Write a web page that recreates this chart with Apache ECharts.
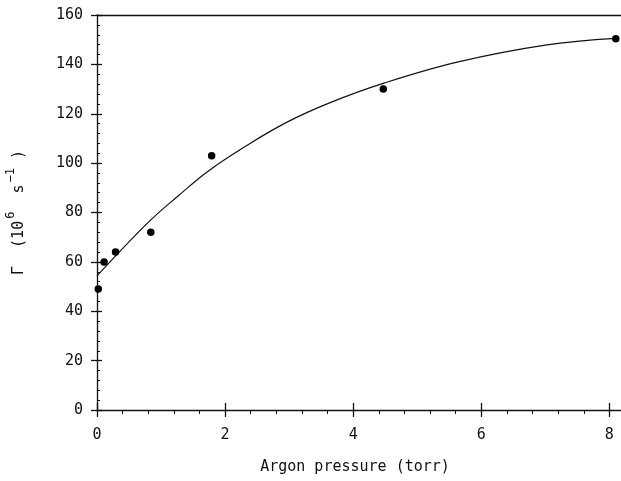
<!DOCTYPE html>
<html>
<head>
<meta charset="utf-8">
<script src="https://cdn.jsdelivr.net/npm/echarts@6/dist/echarts.min.js"></script>
<style>html,body{margin:0;padding:0;background:#fff}#c{width:621px;height:481px}</style>
</head>
<body>
<div id="c"></div>
<script>
// Measured points: argon pressure (torr) vs decay rate (10^6 s^-1)
const pressure = [0.02, 0.11, 0.29, 0.84, 1.79, 4.47, 8.1];
const rate     = [49, 60, 64, 72, 103, 130, 150.4];
// Fitted curve
const curveX = [0, 0.8, 1.28, 1.75, 2.33, 2.96, 3.64, 4.48, 5.64, 7.0, 8.1];
const curveY = [54.3, 76, 87, 97, 107, 116.5, 124.5, 132.4, 141, 147.8, 150.5];
const xTicks = [0, 2, 4, 6, 8];
const yTicks = [0, 20, 40, 60, 80, 100, 120, 140, 160];

const font = 'DejaVu Sans Mono';
const ink = '#111';
const chart = echarts.init(document.getElementById('c'), null, {renderer: 'canvas'});
const lineStyle = {color: ink, width: 1.3};
const baseX = {type: 'value', min: 0, max: 8.4, interval: 2, splitLine: {show: false}};
const baseY = {type: 'value', min: 0, max: 160, interval: 20, splitLine: {show: false}};
chart.setOption({
  animation: false,
  backgroundColor: '#fff',
  grid: {left: 97, top: 15, height: 395, width: 538, containLabel: false, outerBoundsMode: 'none'},
  xAxis: [
    Object.assign({}, baseX, {
      position: 'bottom', offset: 0,
      axisLine: {lineStyle: lineStyle},
      axisTick: {length: 7, lineStyle: lineStyle},
      minorTick: {show: true, splitNumber: 5, length: 4, lineStyle: {color: ink, width: 1}},
      axisLabel: {color: ink, fontFamily: font, fontSize: 15, margin: 18,
        formatter: v => xTicks.includes(v) ? String(v) : ''},
      name: 'Argon pressure (torr)', nameLocation: 'middle', nameGap: 50,
      nameTextStyle: {color: ink, fontFamily: font, fontSize: 15, padding: [0, 22, 0, 0]}
    }),
    Object.assign({}, baseX, {
      position: 'bottom', offset: 0,
      axisLine: {show: false},
      axisTick: {inside: true, length: 7, lineStyle: lineStyle},
      axisLabel: {show: false}
    }),
    Object.assign({}, baseX, {
      position: 'top', offset: 0,
      axisLine: {lineStyle: lineStyle},
      axisTick: {show: false},
      axisLabel: {show: false}
    })
  ],
  yAxis: [
    Object.assign({}, baseY, {
      position: 'left', offset: 0,
      axisLine: {lineStyle: lineStyle},
      axisTick: {inside: true, length: 5, lineStyle: lineStyle},
      minorTick: {show: true, splitNumber: 5, length: 3, lineStyle: {color: ink, width: 1}},
      axisLabel: {color: ink, fontFamily: font, fontSize: 15, margin: 14,
        formatter: v => yTicks.includes(v) ? String(v) : ''},
      name: '{a|Γ  (10}{s|6}{a|  s}{s|−1}{a| )}', nameLocation: 'middle', nameGap: 70, nameRotate: 90,
      nameTextStyle: {color: ink, fontFamily: font, fontSize: 15,
        rich: {
          a: {color: ink, fontFamily: font, fontSize: 15, lineHeight: 22, verticalAlign: 'bottom'},
          s: {color: ink, fontFamily: font, fontSize: 12, lineHeight: 22, verticalAlign: 'top', padding: [0, 0, 10, 2]}
        }}
    }),
    Object.assign({}, baseY, {
      position: 'left', offset: 0,
      axisLine: {show: false},
      axisTick: {length: 6, lineStyle: lineStyle},
      axisLabel: {show: false}
    })
  ],
  series: [
    {
      type: 'line', xAxisIndex: 0, yAxisIndex: 0,
      data: curveX.map((x, i) => [x, curveY[i]]),
      smooth: 0.4, showSymbol: false, symbol: 'none',
      lineStyle: {color: ink, width: 1.2}, z: 3
    },
    {
      type: 'scatter', xAxisIndex: 0, yAxisIndex: 0,
      data: pressure.map((x, i) => [x, rate[i]]),
      symbol: 'circle', symbolSize: 7.5,
      itemStyle: {color: '#000', opacity: 1}, z: 4
    }
  ]
});
</script>
</body>
</html>
